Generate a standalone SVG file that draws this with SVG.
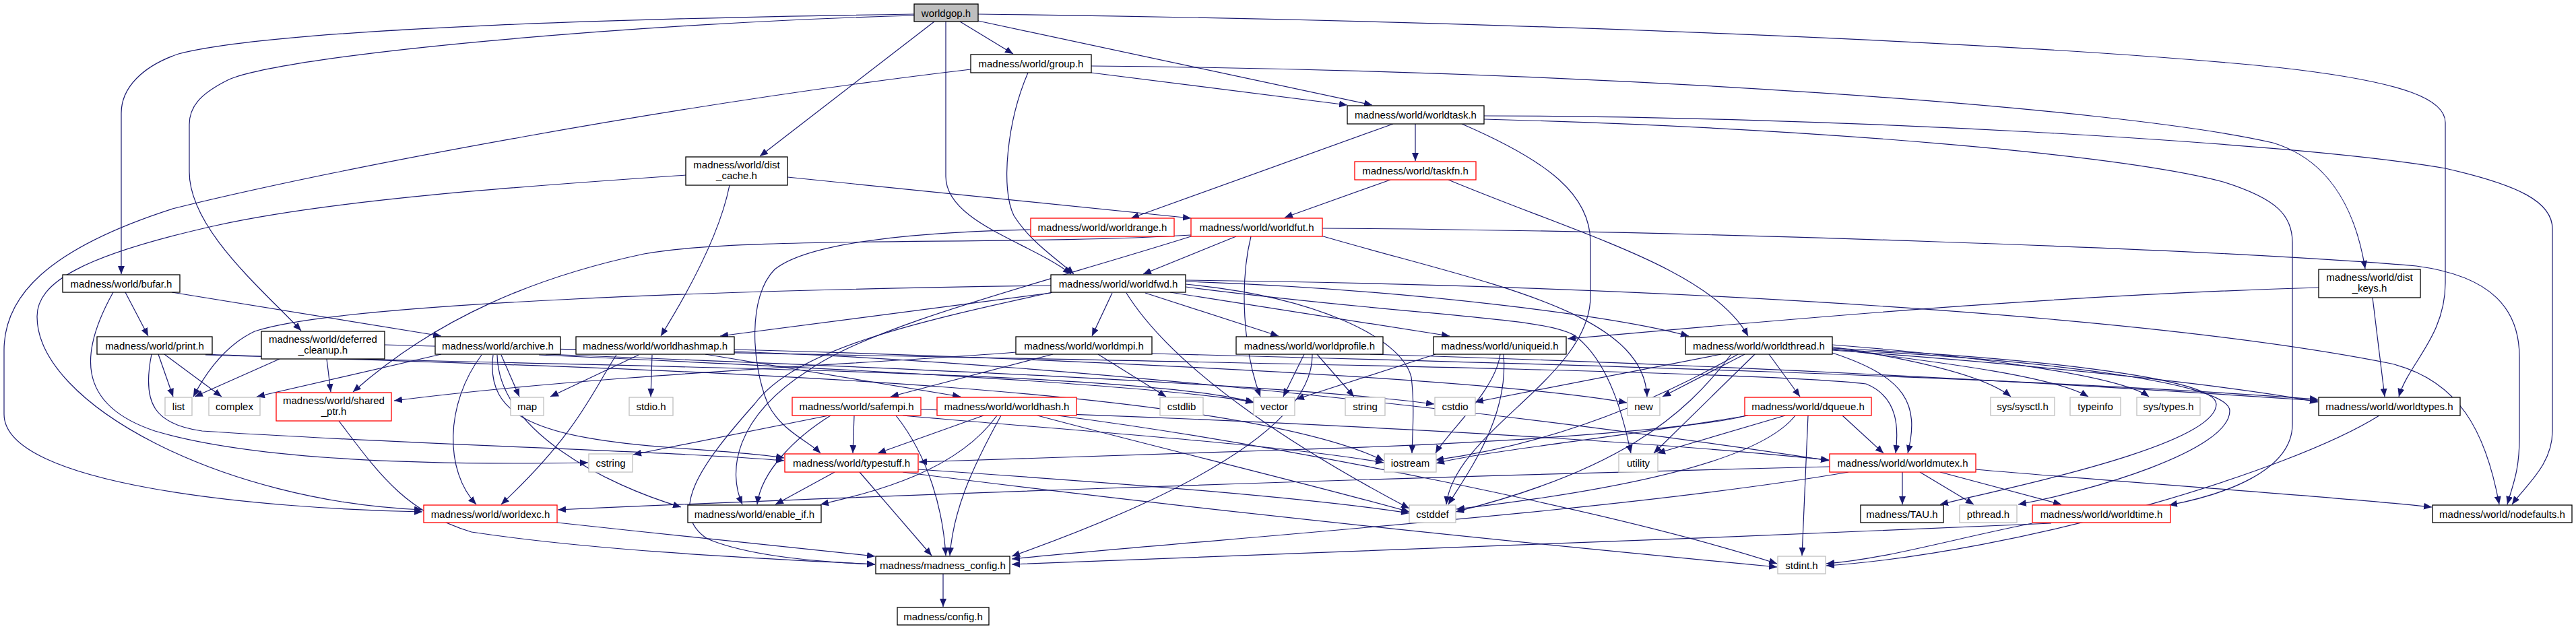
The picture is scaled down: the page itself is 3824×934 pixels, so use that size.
<svg xmlns="http://www.w3.org/2000/svg" width="3824" height="934" viewBox="0 0 3824 934">
<defs>
<marker id="a" viewBox="0 0 12 10" refX="12" refY="5" markerWidth="12" markerHeight="10" markerUnits="userSpaceOnUse" orient="auto"><path d="M0,0 L12,5 L0,10 z" fill="#191970"/></marker>
</defs>
<style>
rect{fill:#fff;stroke:#000;stroke-width:1.3}
.r rect{stroke:#ff0000}
.g rect{stroke:#bfbfbf}
.top rect{fill:#bfbfbf}
text{font-family:"Liberation Sans",Arial,sans-serif;font-size:15px;text-anchor:middle;fill:#000}
#edges path{fill:none;stroke:#191970;stroke-width:1.2;marker-end:url(#a)}
</style>
<rect x="0" y="0" width="3824" height="934" style="fill:#fff;stroke:none"/>
<g id="edges">
<path d="M1357,21 C1000,26 420,40 265,80 C212,98 180,130 180,168 L180,407"/>
<path d="M1357,23 C950,34 430,80 340,118 C295,140 281,160 281,185 L281,255 C281,340 390,430 447,491"/>
<path d="M1387,32 L1128,232"/>
<path d="M1404,32 L1404,262 C1404,330 1530,360 1590,407"/>
<path d="M1425,32 L1504,80"/>
<path d="M1452,31 C1700,85 1900,125 2037,156"/>
<path d="M1452,21 C2200,30 3000,62 3380,100 C3580,122 3630,150 3630,182 L3630,420 C3630,500 3575,540 3561,589"/>
<path d="M1441,103 C1000,155 500,250 256,310 C70,370 6,440 6,520 L6,615 C6,720 380,755 627,760"/>
<path d="M1526,108 C1495,180 1485,280 1505,320 C1530,360 1570,385 1594,407"/>
<path d="M1620,98 C2400,105 3150,160 3374,212 C3450,235 3495,300 3511,399"/>
<path d="M1620,108 L2000,156"/>
<path d="M1018,260 C800,275 500,295 320,335 C120,380 55,420 55,470 C55,600 330,745 627,757"/>
<path d="M1083,275 C1070,340 1030,420 981,499"/>
<path d="M1169,263 L1768,324"/>
<path d="M2068,184 L1679,324"/>
<path d="M2101,184 L2101,239"/>
<path d="M2170,184 C2300,240 2361,290 2361,360 L2361,440 C2361,560 2160,640 2147,749"/>
<path d="M2203,172 C2700,172 3400,210 3630,250 C3740,275 3789,300 3789,340 L3789,640 C3789,690 3750,720 3729,749"/>
<path d="M2203,177 C2700,190 3150,230 3300,270 C3380,295 3403,320 3403,360 L3403,630 C3403,700 3300,735 3220,750"/>
<path d="M2064,267 L1907,323"/>
<path d="M2150,267 C2350,350 2540,400 2595,499"/>
<path d="M1530,341 C1350,345 1200,360 1150,400 C1110,440 1115,540 1140,600 C1160,640 1200,655 1218,673"/>
<path d="M1835,351 L1697,407"/>
<path d="M1768,349 C1500,365 1100,350 956,377 C800,410 650,470 524,582"/>
<path d="M1963,339 C2500,342 3300,370 3587,395 C3700,410 3740,460 3740,530 L3740,650 C3740,700 3730,720 3722,749"/>
<path d="M1857,351 C1840,420 1845,520 1871,589"/>
<path d="M1961,350 C2200,420 2440,460 2445,589"/>
<path d="M1768,351 C1550,420 1300,480 1200,550 C1090,620 1080,700 1102,749"/>
<path d="M3442,427 C3000,440 2600,480 2327,503"/>
<path d="M3522,442 L3540,589"/>
<path d="M186,434 L220,499"/>
<path d="M255,434 L655,499"/>
<path d="M168,434 C120,520 110,600 230,640 C400,690 700,690 873,687"/>
<path d="M1560,424 C1100,430 500,450 378,492 C340,510 310,545 287,589"/>
<path d="M1560,435 L1069,499"/>
<path d="M1651,435 L1621,499"/>
<path d="M1700,435 L1898,499"/>
<path d="M1737,434 L2152,499"/>
<path d="M1760,418 C2100,430 2400,470 2507,499"/>
<path d="M1760,416 C2500,425 3200,470 3550,540 C3650,565 3690,640 3710,749"/>
<path d="M1760,422 C1950,440 2080,500 2095,560 C2100,600 2097,640 2096,673"/>
<path d="M1760,426 C2100,470 2300,470 2340,500 C2390,540 2410,620 2421,673"/>
<path d="M1672,435 C1750,560 1950,680 2092,755"/>
<path d="M1562,434 C1350,480 1180,520 1120,600 C1040,690 990,760 1050,800 C1120,830 1250,836 1299,838"/>
<path d="M235,526 L257,589"/>
<path d="M244,526 L329,589"/>
<path d="M225,526 C210,600 230,630 300,640 C600,660 1000,670 1164,684"/>
<path d="M305,526 C800,545 1800,560 2054,684"/>
<path d="M305,527 C900,545 1700,550 1862,598"/>
<path d="M415,533 L289,589"/>
<path d="M485,533 L491,582"/>
<path d="M571,512 C1200,530 2550,545 2770,570 C2820,590 2818,640 2814,673"/>
<path d="M655,526 L381,589"/>
<path d="M744,527 L771,589"/>
<path d="M715,527 C660,600 660,700 707,749"/>
<path d="M732,527 C720,620 800,650 1000,665 C1100,672 1140,676 1164,680"/>
<path d="M738,527 C740,640 900,720 1011,753"/>
<path d="M800,527 C1200,545 1700,570 1861,597"/>
<path d="M810,526 C1300,545 1900,570 2129,600"/>
<path d="M948,527 L817,589"/>
<path d="M968,527 L966,589"/>
<path d="M1047,526 L1426,589"/>
<path d="M915,527 C880,580 860,640 744,749"/>
<path d="M1090,519 C1500,530 2200,560 2415,598"/>
<path d="M1090,522 C1600,540 2300,620 2715,684"/>
<path d="M1563,526 L1322,589"/>
<path d="M1630,526 L1731,589"/>
<path d="M1508,523 C1300,540 900,555 585,595"/>
<path d="M1710,525 C2300,540 3000,560 3441,593"/>
<path d="M1955,526 L2010,589"/>
<path d="M1936,526 L1905,589"/>
<path d="M2034,526 C2500,540 3000,565 3441,595"/>
<path d="M1948,526 C1950,620 1800,720 1502,826"/>
<path d="M2227,526 C2220,580 2150,640 2131,673"/>
<path d="M2232,526 C2240,620 2180,700 2150,749"/>
<path d="M2131,526 L1924,593"/>
<path d="M2626,526 L2672,589"/>
<path d="M2590,526 L2468,589"/>
<path d="M2555,526 L2190,597"/>
<path d="M2720,524 C2830,560 2850,600 2832,673"/>
<path d="M2720,518 C2900,540 3050,560 3100,589"/>
<path d="M2720,515 C2850,535 2950,560 2985,589"/>
<path d="M2720,512 C2950,530 3150,560 3190,589"/>
<path d="M2720,520 C3000,540 3300,570 3441,597"/>
<path d="M2720,517 C3000,530 3290,560 3290,600 C3290,660 3000,720 2880,749"/>
<path d="M2720,519 C3050,535 3310,570 3310,610 C3310,670 3100,730 2996,749"/>
<path d="M2570,526 C2500,620 2400,700 2161,760"/>
<path d="M2580,526 C2450,600 2300,660 2131,683"/>
<path d="M2605,526 L2455,673"/>
<path d="M2735,617 L2796,673"/>
<path d="M2595,617 C2400,650 2200,670 2132,688"/>
<path d="M2592,617 C2540,632 2300,656 1912,668 C1700,675 1500,682 1364,686"/>
<path d="M2650,617 L2460,673"/>
<path d="M2665,617 C2600,700 2300,740 2162,756"/>
<path d="M2684,617 L2675,825"/>
<path d="M2716,693 C2000,710 1200,740 828,757"/>
<path d="M2824,701 L2824,749"/>
<path d="M2850,701 L2930,749"/>
<path d="M2880,701 L3060,749"/>
<path d="M2932,697 C3200,720 3500,740 3610,753"/>
<path d="M2744,701 C2400,760 1800,800 1502,830"/>
<path d="M1230,617 L940,675"/>
<path d="M1268,617 L1266,673"/>
<path d="M1367,608 C1800,620 2400,650 2715,683"/>
<path d="M1340,617 C1600,640 1900,660 2054,687"/>
<path d="M1330,617 C1380,680 1400,760 1404,825"/>
<path d="M1233,617 C1180,650 1130,700 1124,749"/>
<path d="M1460,617 L1303,673"/>
<path d="M1480,617 C1420,700 1300,730 1218,749"/>
<path d="M1486,617 C1440,700 1415,760 1410,825"/>
<path d="M1570,617 C1900,660 2400,760 2638,837"/>
<path d="M1540,617 C1700,660 1950,720 2092,760"/>
<path d="M1239,701 L1151,749"/>
<path d="M1276,701 L1383,825"/>
<path d="M1340,701 C1800,760 2300,810 2638,842"/>
<path d="M1363,697 C1700,720 1950,740 2092,762"/>
<path d="M827,776 C1000,795 1200,815 1299,826"/>
<path d="M503,625 C560,700 600,760 700,790 C900,820 1150,830 1299,838"/>
<path d="M3045,777 C2500,800 1800,830 1502,838"/>
<path d="M3017,777 C2900,800 2800,830 2711,837"/>
<path d="M3532,617 C3400,700 3000,820 2711,840"/>
<path d="M1400,852 L1400,901"/>
</g>
<g id="worldgop" class="top"><rect x="1357" y="6" width="95" height="26"/><text x="1404.5" y="24.5">worldgop.h</text></g>
<g id="group"><rect x="1441" y="81" width="179" height="27"/><text x="1530.5" y="99.5">madness/world/group.h</text></g>
<g id="worldtask"><rect x="2000" y="157" width="203" height="27"/><text x="2101.5" y="175.5">madness/world/worldtask.h</text></g>
<g id="dist_cache"><rect x="1018" y="233" width="151" height="42"/><text x="1093.5" y="250">madness/world/dist</text><text x="1093.5" y="266">_cache.h</text></g>
<g id="taskfn" class="r"><rect x="2011" y="240" width="180" height="27"/><text x="2101" y="258.5">madness/world/taskfn.h</text></g>
<g id="worldrange" class="r"><rect x="1530" y="324" width="213" height="27"/><text x="1636.5" y="342.5">madness/world/worldrange.h</text></g>
<g id="worldfut" class="r"><rect x="1768" y="324" width="195" height="27"/><text x="1865.5" y="342.5">madness/world/worldfut.h</text></g>
<g id="bufar"><rect x="93" y="408" width="174" height="26"/><text x="180" y="426.5">madness/world/bufar.h</text></g>
<g id="worldfwd"><rect x="1560" y="408" width="200" height="26"/><text x="1660" y="426.5">madness/world/worldfwd.h</text></g>
<g id="dist_keys"><rect x="3442" y="400" width="151" height="42"/><text x="3517.5" y="417">madness/world/dist</text><text x="3517.5" y="433">_keys.h</text></g>
<g id="print"><rect x="144" y="500" width="171" height="26"/><text x="229.5" y="518.5">madness/world/print.h</text></g>
<g id="deferred_cleanup"><rect x="388" y="492" width="183" height="41"/><text x="479.5" y="509">madness/world/deferred</text><text x="479.5" y="525">_cleanup.h</text></g>
<g id="archive"><rect x="646" y="500" width="186" height="26"/><text x="739" y="518.5">madness/world/archive.h</text></g>
<g id="worldhashmap"><rect x="855" y="500" width="235" height="26"/><text x="972.5" y="518.5">madness/world/worldhashmap.h</text></g>
<g id="worldmpi"><rect x="1508" y="500" width="202" height="26"/><text x="1609" y="518.5">madness/world/worldmpi.h</text></g>
<g id="worldprofile"><rect x="1835" y="500" width="218" height="26"/><text x="1944" y="518.5">madness/world/worldprofile.h</text></g>
<g id="uniqueid"><rect x="2128" y="500" width="197" height="26"/><text x="2226.5" y="518.5">madness/world/uniqueid.h</text></g>
<g id="worldthread"><rect x="2502" y="500" width="218" height="26"/><text x="2611" y="518.5">madness/world/worldthread.h</text></g>
<g id="list" class="g"><rect x="245" y="590" width="40" height="27"/><text x="265" y="608.5">list</text></g>
<g id="complex" class="g"><rect x="310" y="590" width="76" height="27"/><text x="348" y="608.5">complex</text></g>
<g id="shared_ptr" class="r"><rect x="410" y="583" width="171" height="42"/><text x="495.5" y="600">madness/world/shared</text><text x="495.5" y="616">_ptr.h</text></g>
<g id="map" class="g"><rect x="758" y="590" width="49" height="27"/><text x="782.5" y="608.5">map</text></g>
<g id="stdio" class="g"><rect x="934" y="590" width="65" height="27"/><text x="966.5" y="608.5">stdio.h</text></g>
<g id="safempi" class="r"><rect x="1176" y="590" width="191" height="27"/><text x="1271.5" y="608.5">madness/world/safempi.h</text></g>
<g id="worldhash" class="r"><rect x="1391" y="590" width="207" height="27"/><text x="1494.5" y="608.5">madness/world/worldhash.h</text></g>
<g id="cstdlib" class="g"><rect x="1722" y="590" width="64" height="27"/><text x="1754" y="608.5">cstdlib</text></g>
<g id="vector" class="g"><rect x="1861" y="590" width="61" height="27"/><text x="1891.5" y="608.5">vector</text></g>
<g id="string" class="g"><rect x="1997" y="590" width="59" height="27"/><text x="2026.5" y="608.5">string</text></g>
<g id="cstdio" class="g"><rect x="2130" y="590" width="60" height="27"/><text x="2160" y="608.5">cstdio</text></g>
<g id="new" class="g"><rect x="2416" y="590" width="48" height="27"/><text x="2440" y="608.5">new</text></g>
<g id="dqueue" class="r"><rect x="2590" y="590" width="188" height="27"/><text x="2684" y="608.5">madness/world/dqueue.h</text></g>
<g id="sysctl" class="g"><rect x="2955" y="590" width="95" height="27"/><text x="3002.5" y="608.5">sys/sysctl.h</text></g>
<g id="typeinfo" class="g"><rect x="3073" y="590" width="75" height="27"/><text x="3110.5" y="608.5">typeinfo</text></g>
<g id="systypes" class="g"><rect x="3172" y="590" width="94" height="27"/><text x="3219" y="608.5">sys/types.h</text></g>
<g id="worldtypes"><rect x="3442" y="590" width="210" height="27"/><text x="3547" y="608.5">madness/world/worldtypes.h</text></g>
<g id="cstring" class="g"><rect x="874" y="674" width="65" height="27"/><text x="906.5" y="692.5">cstring</text></g>
<g id="typestuff" class="r"><rect x="1165" y="674" width="198" height="27"/><text x="1264" y="692.5">madness/world/typestuff.h</text></g>
<g id="iostream" class="g"><rect x="2055" y="674" width="77" height="27"/><text x="2093.5" y="692.5">iostream</text></g>
<g id="utility" class="g"><rect x="2403" y="674" width="58" height="27"/><text x="2432" y="692.5">utility</text></g>
<g id="worldmutex" class="r"><rect x="2716" y="674" width="217" height="27"/><text x="2824.5" y="692.5">madness/world/worldmutex.h</text></g>
<g id="worldexc" class="r"><rect x="629" y="750" width="198" height="26"/><text x="728" y="768.5">madness/world/worldexc.h</text></g>
<g id="enable_if"><rect x="1021" y="750" width="198" height="26"/><text x="1120" y="768.5">madness/world/enable_if.h</text></g>
<g id="cstddef" class="g"><rect x="2092" y="750" width="69" height="26"/><text x="2126.5" y="768.5">cstddef</text></g>
<g id="TAU"><rect x="2762" y="750" width="123" height="26"/><text x="2823.5" y="768.5">madness/TAU.h</text></g>
<g id="pthread" class="g"><rect x="2909" y="750" width="85" height="26"/><text x="2951.5" y="768.5">pthread.h</text></g>
<g id="worldtime" class="r"><rect x="3017" y="750" width="205" height="26"/><text x="3119.5" y="768.5">madness/world/worldtime.h</text></g>
<g id="nodefaults"><rect x="3611" y="750" width="207" height="26"/><text x="3714.5" y="768.5">madness/world/nodefaults.h</text></g>
<g id="madness_config"><rect x="1300" y="826" width="199" height="26"/><text x="1399.5" y="844.5">madness/madness_config.h</text></g>
<g id="stdint" class="g"><rect x="2639" y="826" width="71" height="26"/><text x="2674.5" y="844.5">stdint.h</text></g>
<g id="config"><rect x="1332" y="902" width="136" height="26"/><text x="1400" y="920.5">madness/config.h</text></g>
</svg>
